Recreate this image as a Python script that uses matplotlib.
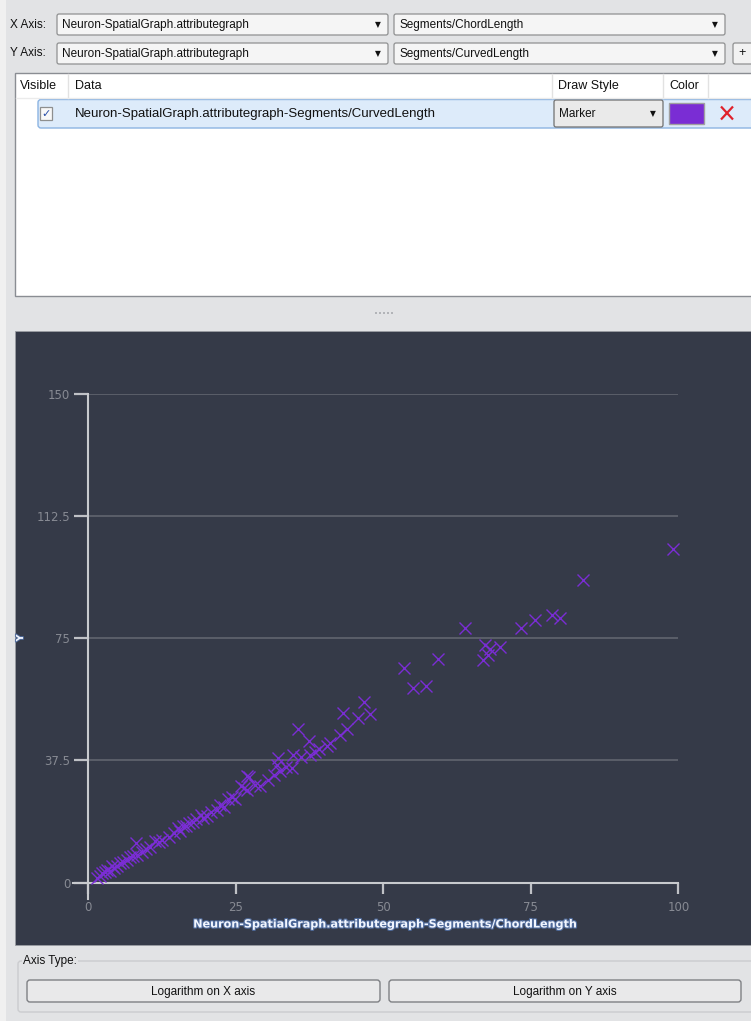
import matplotlib
matplotlib.use('Agg')
import matplotlib.pyplot as plt
from matplotlib.patches import Rectangle, FancyBboxPatch
import matplotlib.patheffects as pe

# ---------------- data ----------------
chord_length = [1.5, 2.0, 2.3, 2.8, 3.2, 3.6, 4.0, 4.3, 4.8, 5.4, 5.8, 6.5, 7.0, 7.5,
                8.2, 8.0, 9.1, 9.8, 10.5, 11.3, 12.0, 12.5, 13.6, 14.5, 15.2, 15.6,
                16.1, 16.6, 17.0, 17.8, 18.3, 19.0, 19.5, 20.1, 20.8, 21.8, 22.3, 22.9,
                23.7, 24.3, 24.9, 25.8, 26.3, 26.8, 26.9, 27.3, 28.2, 29.0, 30.5, 31.5,
                32.0, 32.2, 32.5, 33.5, 34.5, 34.7, 35.5, 36.0, 37.4, 37.6, 38.4, 39.0,
                40.4, 40.9, 42.6, 43.2, 43.9, 45.7, 46.7, 47.7,
                53.5, 55.0, 57.3, 59.3, 63.8, 66.9, 67.2, 67.7, 68.0, 69.8, 73.4, 75.7,
                78.6, 80.0, 83.8, 99.0]
curved_length = [1.3, 2.0, 2.9, 3.2, 3.9, 3.6, 5.0, 4.4, 5.2, 5.9, 6.4, 7.0, 7.8, 8.0,
                 8.5, 12.0, 9.5, 10.4, 11.0, 12.6, 12.5, 13.0, 14.1, 15.3, 16.8, 15.7,
                 17.2, 17.5, 18.2, 18.7, 19.5, 20.8, 19.8, 20.3, 21.8, 22.3, 23.9, 23.3,
                 25.6, 26.4, 25.6, 29.5, 29.0, 32.6, 28.5, 32.4, 30.0, 29.7, 31.5, 33.0,
                 36.2, 38.2, 34.1, 35.5, 35.1, 39.2, 47.1, 38.5, 43.3, 39.2, 40.2, 41.0,
                 41.8, 42.8, 45.4, 52.0, 47.1, 50.5, 55.3, 51.6,
                 65.9, 59.7, 60.4, 68.6, 78.3, 68.2, 73.0, 70.0, 71.7, 72.3, 78.3, 80.7,
                 82.2, 81.3, 92.8, 102.5]
x_ticks = [0, 25, 50, 75, 100]
y_ticks = [0, 37.5, 75, 112.5, 150]
y_tick_labels = ['0', '37.5', '75', '112.5', '150']
x_label = 'Neuron-SpatialGraph.attributegraph-Segments/ChordLength'
y_label = 'Y'
source_name = 'Neuron-SpatialGraph.attributegraph'
x_attr = 'Segments/ChordLength'
y_attr = 'Segments/CurvedLength'
series_name = 'Neuron-SpatialGraph.attributegraph-Segments/CurvedLength'
table_headers = ['Visible', 'Data', 'Draw Style', 'Color']
draw_style = 'Marker'
series_color = '#7A2DD4'

W, H = 751, 1021
GUI_FONT = 'Liberation Sans'
fig = plt.figure(figsize=(W / 100, H / 100), dpi=100)
fig.patch.set_facecolor('#E2E3E5')

ui = fig.add_axes([0, 0, 1, 1])
ui.set_xlim(0, W)
ui.set_ylim(H, 0)
ui.axis('off')
ui.add_patch(Rectangle((0, 0), 6, H, facecolor='#F0F0F0', edgecolor='none'))


def combo(x0, y0, x1, y1, text, face='#F5F5F5', edge='#8F9091', size=8.5):
    ui.add_patch(FancyBboxPatch((x0, y0), x1 - x0, y1 - y0,
                                boxstyle='round,pad=0,rounding_size=2',
                                facecolor=face, edgecolor=edge, lw=0.9))
    ui.text(x0 + 5, (y0 + y1) / 2 + 0.5, text, fontsize=size, family=GUI_FONT,
            color='#111111', va='center', ha='left')
    ui.text(x1 - 10, (y0 + y1) / 2, '\u25BC', fontsize=5.5, family='DejaVu Sans',
            color='#111111', va='center', ha='center')


# axis selectors
ui.text(10, 24.5, 'X Axis:', fontsize=8.5, family=GUI_FONT, va='center', color='#111111')
ui.text(10, 53.5, 'Y Axis:', fontsize=8.5, family=GUI_FONT, va='center', color='#111111')
combo(57, 14, 388, 35, source_name)
combo(394, 14, 725, 35, x_attr)
combo(57, 43, 388, 64, source_name)
combo(394, 43, 725, 64, y_attr)
ui.add_patch(FancyBboxPatch((733, 43), 24, 21, boxstyle='round,pad=0,rounding_size=2',
                            facecolor='#F2F2F2', edgecolor='#8F9091', lw=0.9))
ui.text(742, 53, '+', fontsize=9, family=GUI_FONT, va='center', ha='center', color='#111111')

# table
ui.add_patch(Rectangle((15, 73), 745, 223, facecolor='white', edgecolor='#8A8D93', lw=1))
for xs in [68, 552, 663, 708]:
    ui.plot([xs, xs], [74, 98], color='#E2E2E2', lw=1)
ui.plot([16, 751], [98.5, 98.5], color='#EBEBEB', lw=1)
for label, xs in zip(table_headers, [20, 75, 558, 669]):
    ui.text(xs, 86, label, fontsize=9, family=GUI_FONT, va='center', ha='left', color='#111111')

# selected row
ui.add_patch(FancyBboxPatch((38, 99.5), 720, 28.5, boxstyle='round,pad=0,rounding_size=3',
                            facecolor='#DDEBFA', edgecolor='#8CB4E2', lw=1))
ui.add_patch(Rectangle((40, 107), 12, 13, facecolor='#F8F8F8', edgecolor='#8E8F8F', lw=0.9))
ui.text(46, 113.5, '\u2713', fontsize=8, family='DejaVu Sans', color='#2A4FA8',
        va='center', ha='center')
ui.text(75, 113.5, series_name, fontsize=9.5, family=GUI_FONT, va='center', ha='left',
        color='#111111')
combo(554, 100, 663, 127, draw_style, face='#EAEAEA', edge='#707070', size=8.5)
ui.add_patch(Rectangle((669, 103), 35, 21, facecolor=series_color, edgecolor='#A0A0A0', lw=1))
ui.plot([721, 733], [106.5, 119.5], color='#E0212B', lw=1.6, solid_capstyle='butt')
ui.plot([733, 721], [106.5, 119.5], color='#E0212B', lw=1.6, solid_capstyle='butt')

# splitter handle
for k in range(5):
    ui.add_patch(Rectangle((375 + k * 4, 312), 2, 2, facecolor='#B2B4B8', edgecolor='none'))

# dark chart panel
ui.add_patch(Rectangle((15, 331), 745, 614, facecolor='#353A48', edgecolor='#9A9DA3', lw=0.6))

# bottom group box + buttons
ui.add_patch(FancyBboxPatch((18, 961), 740, 51, boxstyle='round,pad=0,rounding_size=3',
                            facecolor='none', edgecolor='#CBCCCF', lw=1))
ui.text(23, 961, 'Axis Type:', fontsize=8.5, family=GUI_FONT, va='center', ha='left',
        color='#111111', bbox=dict(facecolor='#E2E3E5', edgecolor='none', pad=1))
for (bx0, bx1, txt) in [(27, 380, 'Logarithm on X axis'), (389, 741, 'Logarithm on Y axis')]:
    ui.add_patch(FancyBboxPatch((bx0, 980), bx1 - bx0, 22, boxstyle='round,pad=0,rounding_size=3',
                                facecolor='#E9E9EA', edgecolor='#7E8084', lw=1))
    ui.text((bx0 + bx1) / 2, 991.5, txt, fontsize=8.5, family=GUI_FONT, va='center',
            ha='center', color='#111111')

# ---------------- chart ----------------
x0p, x1p = 88.4, 678.4
y0p, y1p = 882.5, 394.0
ax = fig.add_axes([x0p / W, 1 - y0p / H, (x1p - x0p) / W, (y0p - y1p) / H])
ax.set_facecolor('none')
ax.set_xlim(0, 100)
ax.set_ylim(0, 150)
for s in ax.spines.values():
    s.set_visible(False)
ax.set_xticks(x_ticks)
ax.set_xticklabels([str(t) for t in x_ticks])
ax.set_yticks(y_ticks)
ax.set_yticklabels(y_tick_labels)
ax.grid(axis='y', color='#646873', lw=1.1)
ax.grid(axis='x', visible=False)
ax.set_axisbelow(True)
ax.tick_params(axis='y', direction='out', length=10, width=1.6, color='#BFC1C6',
               labelcolor='#878A93', labelsize=8.5, pad=3)
ax.tick_params(axis='x', direction='out', length=8, width=1.6, color='#BFC1C6',
               labelcolor='#878A93', labelsize=8.5, pad=5)
for lab in ax.get_xticklabels() + ax.get_yticklabels():
    lab.set_family('DejaVu Sans')

ax.axhline(0, xmin=-15 / 590, xmax=1.0, color='#C8CACE', lw=1.5, clip_on=False, zorder=2)
ax.axvline(0, ymin=-16 / 488.5, ymax=1.0, color='#C8CACE', lw=1.5, clip_on=False, zorder=2)

ax.plot(chord_length, curved_length, linestyle='none', marker='x', ms=8.5, mew=1.0,
        color=series_color, clip_on=False, zorder=3)

ui.text(383, 924.5, x_label, fontsize=8.05, fontweight='bold', family='DejaVu Sans',
        color='#F2F6FF', va='center', ha='center',
        path_effects=[pe.withStroke(linewidth=1.6, foreground='#4F6A9A')])
ui.text(20, 638, y_label, fontsize=7, fontweight='bold', family='DejaVu Sans',
        color='#F2F6FF', va='center', ha='center', rotation=90,
        path_effects=[pe.withStroke(linewidth=1.4, foreground='#4F6A9A')])

fig.savefig('out.png', dpi=100, facecolor=fig.get_facecolor())
